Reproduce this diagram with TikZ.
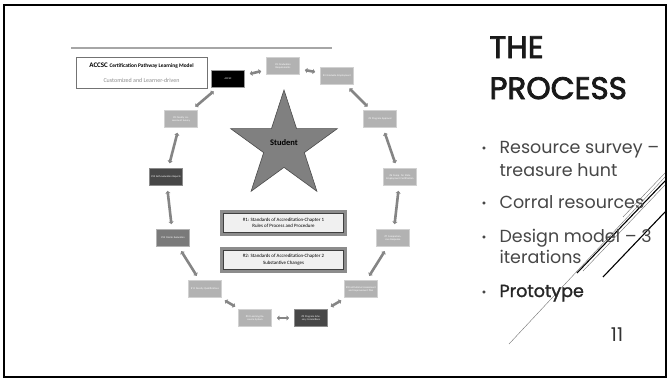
\documentclass[tikz,border=0pt]{standalone}
\usepackage{fontspec}
\setmainfont{Carlito}
\newfontfamily\slidefont{Poppins}
\newfontfamily\slidefontsb{Poppins}[FakeBold=1.5]
\newfontfamily\slidetitlefont{Poppins}[FakeBold=2.5]
\usetikzlibrary{arrows.meta,shapes.geometric}
\begin{document}
\begin{tikzpicture}[x=1pt,y=-1pt,
  cbox/.style={draw=#1, line width=0.8pt, minimum width=33pt, minimum height=17pt,
    inner sep=0.5pt, text width=30pt, align=center, text=white,
    font=\fontsize{2.6}{3}\selectfont},
  lightbox/.style={cbox=black!18, fill=black!30},
  medbox/.style={cbox=black!30, fill=black!52},
  darkbox/.style={cbox=black!45, fill=black!72},
  blackbox/.style={cbox=black!40, fill=black},
  circarrow/.style={draw=black!48, line width=2.6pt, shorten >=5pt, shorten <=5pt,
    {Triangle[width=5pt,length=2.5pt]}-{Triangle[width=5pt,length=2.5pt]}},
  widebox/.style={preaction={draw=black!45, line width=7pt}, fill=black!6, draw=black!75,
    line width=0.5pt, minimum width=120pt, minimum height=19pt, inner sep=0.5pt,
    align=center, font=\fontsize{4.9}{6.6}\selectfont},
  slidetext/.style={anchor=base west, text=black!72, font=\slidefont\fontsize{17.5}{17.5}\selectfont},
  bulletdot/.style={anchor=base, text=black!72, font=\slidefont\fontsize{12}{12}\selectfont},
  titletext/.style={anchor=base west, text=black!90, font=\slidetitlefont\fontsize{31}{31}\selectfont},
  deco/.style={draw=black!55, line width=0.4pt},
  decothick/.style={draw=black, line width=1.1pt}
]
\useasboundingbox (0,0) rectangle (670,380);
\fill[white] (0,0) rectangle (670,380);
\draw[line width=1.6pt] (4,5) rectangle (666,377);

% diagram header
\draw[black!35, line width=1.3pt] (71,48) -- (332,48);
\node[draw=black!55, line width=0.6pt, minimum width=131pt, minimum height=31pt, inner sep=1pt,
  align=center] (title) at (141.5,72.5)
  {{\fontsize{7}{8}\selectfont\bfseries ACCSC {\fontsize{5.4}{6.5}\selectfont Certification Pathway Learning Model}}\\[3.5pt]
   {\fontsize{6}{7}\selectfont\color{black!45}Customized and Learner-driven}};

% ring of boxes
\node[blackbox] (b1) at (228,79) {ACCSC};
\node[lightbox] (b2) at (283,66) {\#3 Graduation Requirements};
\node[lightbox] (b3) at (337,76) {\#4 Graduate Employment};
\node[lightbox] (b4) at (380,119) {\#5 Program Approval};
\node[lightbox] (b5) at (400,177) {\#6 Comp. for State Employment Certification};
\node[lightbox] (b6) at (393,238) {\#7 Comprehensive Response};
\node[lightbox] (b7) at (361,289) {\#8 Institutional Assessment and Improvement Plan};
\node[darkbox] (b8) at (311,318) {\#9 Program Advisory Committees};
\node[lightbox] (b9) at (255,318) {\#10 Learning Resource System};
\node[lightbox] (b10) at (205,289) {\#11 Faculty Qualifications};
\node[medbox] (b11) at (173,238) {\#12 Onsite Evaluation};
\node[darkbox] (b12) at (166,177) {\#13 Self-evaluation Reports};
\node[lightbox] (b13) at (181,119) {\#2 Faculty Assessment Survey};

\foreach \a/\b in {b1/b2,b2/b3,b3/b4,b4/b5,b5/b6,b6/b7,b7/b8,b8/b9,b9/b10,b10/b11,b11/b12,b12/b13,b13/b1}
  \draw[circarrow] (\a) -- (\b);

% star
\node[star, star points=5, star point ratio=2.618, minimum size=112pt, inner sep=0pt,
  fill=black!50, draw=black!70, line width=0.6pt] (star) at (284,146) {};
\node[font=\fontsize{8.5}{10}\selectfont\bfseries] (stu) at (284,143) {Student};

% chapter boxes
\node[widebox] (c1) at (283.5,223) {\#1: Standards of Accreditation-Chapter 1\\Rules of Process and Procedure};
\node[widebox] (c2) at (283.5,259.5) {\#2: Standards of Accreditation-Chapter 2\\Substantive Changes};

% decorative diagonal lines
\draw[deco] (509,344) -- (665,177);
\draw[deco] (623,217) -- (665,173);
\draw[deco] (583,271) -- (665,185);
\draw[decothick] (577,273) -- (665,181);
\draw[decothick] (603,277) -- (665,212);

% slide text
\node[titletext] (t1) at (486,58) {THE};
\node[titletext] (t2) at (486,99) {PROCESS};

\node[bulletdot] (d1) at (484,152) {•};
\node[slidetext] (s1) at (496,153) {Resource survey –};
\node[slidetext] (s1b) at (496,176) {treasure hunt};
\node[bulletdot] (d2) at (484,207) {•};
\node[slidetext] (s2) at (496,208) {Corral resources};
\node[bulletdot] (d3) at (484,241) {•};
\node[slidetext] (s3) at (496,242) {Design model – 3};
\node[slidetext] (s3b) at (496,263) {iterations};
\node[bulletdot] (d4) at (484,296) {•};
\node[slidetext, text=black!85, font=\slidefontsb\fontsize{17.5}{17.5}\selectfont] (s4) at (496,297) {Prototype};
\node[anchor=base, text=black!80, font=\slidefont\fontsize{19}{19}\selectfont] (pg) at (617,341) {11};
\end{tikzpicture}
\end{document}
